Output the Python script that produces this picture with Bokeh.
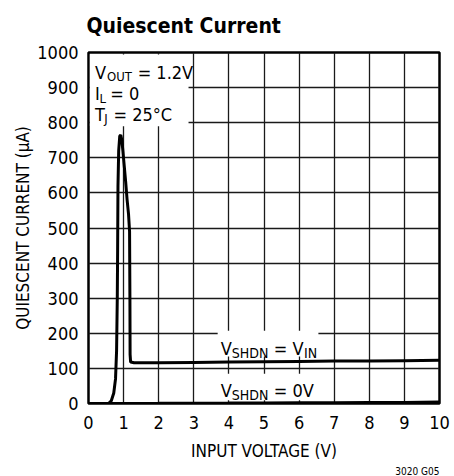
from bokeh.plotting import figure
from bokeh.models import Label, BoxAnnotation, FixedTicker, Range1d, Title
from bokeh.embed import file_html
from bokeh.resources import INLINE

# ---- data ----
vin_on = [0.0, 0.57, 0.65, 0.72, 0.77, 0.80, 0.82, 0.83, 0.84, 0.86, 0.89, 0.92,
          0.95, 0.98, 1.02, 1.06, 1.10, 1.14, 1.17, 1.18, 1.185, 1.20, 1.30,
          2.0, 3.0, 4.0, 5.0, 6.0, 7.0, 8.0, 9.0, 10.0]
iq_on = [0, 0, 8, 30, 70, 150, 300, 437, 620, 720, 762, 765,
         750, 720, 675, 630, 580, 540, 490, 300, 140, 118, 116,
         116, 117, 118, 119, 120, 121, 121, 122, 123]
vin_off = [0, 1, 2, 3, 4, 5, 6, 7, 8, 9, 10]
iq_off = [0, 0.3, 0.6, 1.0, 1.3, 1.7, 2.0, 2.4, 2.8, 3.2, 4.0]

x_ticks = [0, 1, 2, 3, 4, 5, 6, 7, 8, 9, 10]
y_ticks = [0, 100, 200, 300, 400, 500, 600, 700, 800, 900, 1000]

FONT = "'DejaVu Sans Condensed', Roboto, sans-serif"

p = figure(width=454, height=476,
           x_range=Range1d(0, 10), y_range=Range1d(0, 1000),
           output_backend="svg", toolbar_location=None,
           min_border_left=88, min_border_right=15, min_border_top=52, min_border_bottom=72)

p.title.text = "Quiescent Current"
p.title.text_font = FONT
p.title.text_font_size = "21px"
p.title.text_font_style = "bold"
p.title.text_color = "black"
p.title.align = "left"
p.title.vertical_align = "top"
p.title.offset = -2
p.title.standoff = 25

p.add_layout(Title(text="3020 G05", text_font=FONT, text_font_size="10px",
                   text_font_style="normal", text_color="black",
                   align="right", standoff=0), "below")

p.outline_line_color = "black"
p.outline_line_width = 2.5
p.background_fill_color = "white"
p.border_fill_color = "white"

for ax in (p.xaxis[0], p.yaxis[0]):
    ax.major_tick_out = 0
    ax.major_tick_in = 0
    ax.minor_tick_out = 0
    ax.minor_tick_in = 0
    ax.axis_line_color = None
    ax.major_label_text_font = FONT
    ax.major_label_text_font_size = "18px"
    ax.major_label_text_color = "black"
    ax.axis_label_text_font = FONT
    ax.axis_label_text_font_style = "normal"
    ax.axis_label_text_font_size = "17px"
    ax.axis_label_text_color = "black"

p.xaxis.ticker = FixedTicker(ticks=x_ticks)
p.yaxis.ticker = FixedTicker(ticks=y_ticks)
p.xaxis.axis_label = "INPUT VOLTAGE (V)"
p.yaxis.axis_label = "QUIESCENT CURRENT (\u03bcA)"
p.xaxis.major_label_standoff = 12
p.xaxis.axis_label_standoff = 9
p.yaxis.major_label_standoff = 10
p.yaxis.axis_label_standoff = 1

for g in (p.xgrid[0], p.ygrid[0]):
    g.grid_line_color = "#1a1a1a"
    g.grid_line_width = 1.3
p.xgrid.ticker = FixedTicker(ticks=x_ticks)
p.ygrid.ticker = FixedTicker(ticks=y_ticks)

# white boxes behind the annotation texts
p.add_layout(BoxAnnotation(left=0.04, right=2.85, bottom=790, top=994,
                           fill_color="white", fill_alpha=1, line_color=None))
p.add_layout(BoxAnnotation(left=3.68, right=6.55, bottom=134, top=207,
                           fill_color="white", fill_alpha=1, line_color=None))
p.add_layout(BoxAnnotation(left=3.68, right=6.55, bottom=9, top=85,
                           fill_color="white", fill_alpha=1, line_color=None))

p.line(vin_on, iq_on, line_color="black", line_width=3)
p.line(vin_off, iq_off, line_color="black", line_width=3)


def txt(x, y, s, size="18px", align="left", style="normal"):
    p.add_layout(Label(x=x, y=y, text=s, text_font=FONT, text_font_size=size,
                       text_font_style=style, text_color="black",
                       text_baseline="alphabetic", text_align=align))


# conditions box
txt(0.185, 944, "V")
txt(0.53, 932, "OUT", "13px")
txt(1.40, 944, "= 1.2V")
txt(0.185, 882, "I")
txt(0.31, 870, "L", "13px")
txt(0.62, 882, "= 0")
txt(0.185, 823, "T")
txt(0.45, 811, "J", "13px")
txt(0.71, 823, "= 25\u00b0C")

# V_SHDN = V_IN
txt(3.77, 156, "V")
txt(4.08, 145, "SHDN", "14px")
txt(5.28, 156, "= V")
txt(6.14, 145, "IN", "14px")
p.segment(x0=[4.09, 4.09], y0=[184, 64], x1=[5.08, 5.08], y1=[184, 64],
          line_color="black", line_width=1)
# V_SHDN = 0V
txt(3.77, 36, "V")
txt(4.08, 25, "SHDN", "14px")
txt(5.28, 36, "= 0V")

open("out.html", "w").write(file_html(p, INLINE))
